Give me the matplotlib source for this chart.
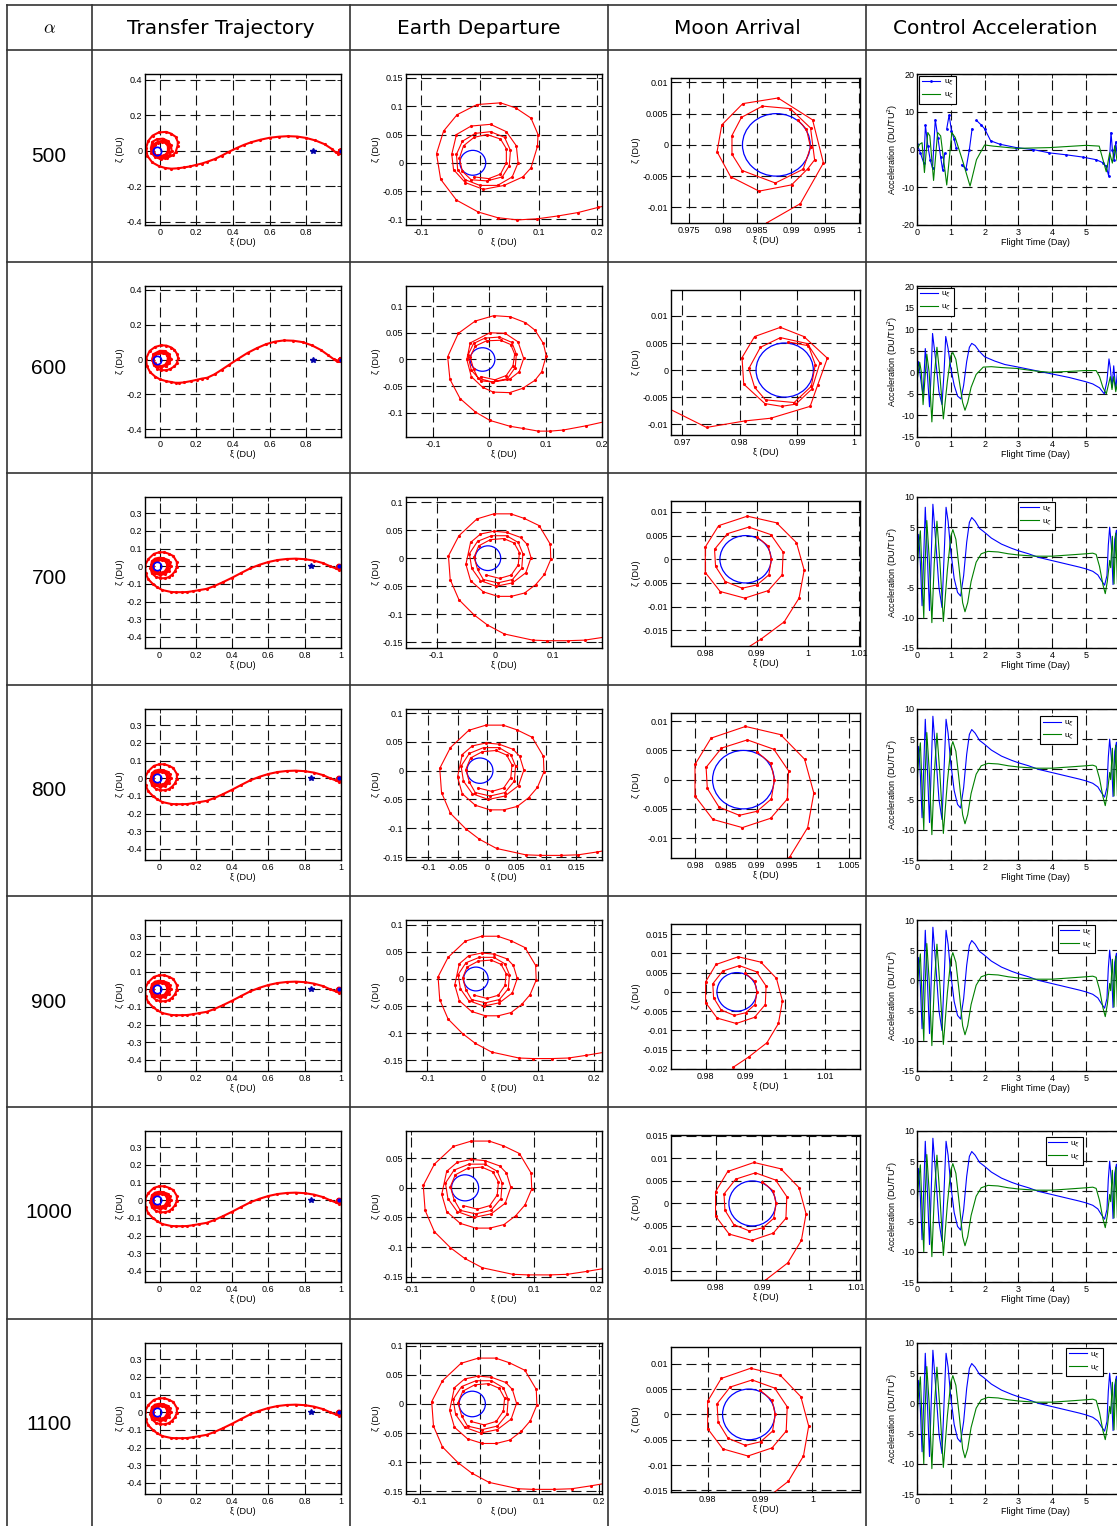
import numpy as np
import matplotlib
matplotlib.use('Agg')
import matplotlib.pyplot as plt
from matplotlib.patches import Circle
from matplotlib.ticker import FuncFormatter

plt.rcParams['font.family'] = ['Liberation Sans', 'DejaVu Sans']
plt.rcParams['axes.unicode_minus'] = False

W, H = 1117, 1526

alphas = ['500', '600', '700', '800', '900', '1000', '1100']
headers = ['Transfer Trajectory', 'Earth Departure', 'Moon Arrival', 'Control Acceleration']

# ---- Earth departure spirals (xi, zeta) in DU ----
earth_a = np.array([
    (-0.010, -0.025), (0.015, -0.028), (0.035, -0.020), (0.045, 0.000), (0.045, 0.025), (0.035, 0.042),
    (0.012, 0.050), (-0.010, 0.045), (-0.028, 0.030), (-0.035, 0.008), (-0.030, -0.015),
    (-0.015, -0.030), (0.012, -0.032), (0.038, -0.025), (0.050, -0.005), (0.052, 0.022), (0.042, 0.045),
    (0.018, 0.055), (-0.008, 0.052), (-0.030, 0.038), (-0.040, 0.015), (-0.038, -0.012),
    (-0.025, -0.030), (0.000, -0.040), (0.030, -0.040), (0.055, -0.025), (0.065, 0.000), (0.062, 0.030),
    (0.045, 0.055), (0.018, 0.068), (-0.015, 0.065), (-0.040, 0.050), (-0.048, 0.015),
    (-0.045, -0.012), (-0.025, -0.035), (0.006, -0.047), (0.041, -0.040), (0.073, -0.025), (0.087, -0.009),
    (0.098, 0.029), (0.099, 0.050), (0.087, 0.079), (0.061, 0.097), (0.035, 0.106), (-0.005, 0.103),
    (-0.039, 0.085), (-0.062, 0.056), (-0.074, 0.016), (-0.067, -0.029), (-0.040, -0.066), (-0.003, -0.087),
    (0.030, -0.097), (0.064, -0.101), (0.098, -0.099), (0.133, -0.094), (0.167, -0.088), (0.201, -0.079),
    (0.230, -0.072)])
earth_b = np.array([
    (-0.015, -0.032), (0.010, -0.038), (0.030, -0.030), (0.042, -0.012), (0.045, 0.010), (0.038, 0.028),
    (0.020, 0.036), (-0.005, 0.035), (-0.025, 0.025), (-0.034, 0.005), (-0.028, -0.018),
    (-0.020, -0.035), (0.005, -0.042), (0.032, -0.036), (0.046, -0.015), (0.048, 0.010), (0.040, 0.032),
    (0.018, 0.042), (-0.008, 0.040), (-0.028, 0.030), (-0.038, 0.008), (-0.032, -0.020),
    (-0.015, -0.040), (0.007, -0.042), (0.036, -0.037), (0.053, -0.023), (0.061, 0.002), (0.051, 0.033),
    (0.028, 0.049), (0.001, 0.050), (-0.034, 0.031), (-0.040, 0.000), (-0.032, -0.032),
    (-0.012, -0.052), (0.007, -0.061), (0.036, -0.062), (0.059, -0.054), (0.081, -0.039), (0.093, -0.023),
    (0.101, 0.007), (0.096, 0.030), (0.081, 0.055), (0.064, 0.069), (0.037, 0.080), (0.008, 0.082),
    (-0.025, 0.072), (-0.055, 0.049), (-0.074, 0.005), (-0.070, -0.037), (-0.052, -0.073), (-0.025, -0.098),
    (0.001, -0.114), (0.037, -0.125), (0.060, -0.129), (0.087, -0.134), (0.108, -0.134), (0.131, -0.132),
    (0.172, -0.124), (0.202, -0.117), (0.230, -0.110)])
earth_c = np.array([
    (-0.015, -0.030), (0.008, -0.036), (0.028, -0.030), (0.040, -0.012), (0.042, 0.010), (0.033, 0.027),
    (0.015, 0.035), (-0.008, 0.033), (-0.028, 0.022), (-0.036, 0.002), (-0.030, -0.020),
    (-0.020, -0.038), (0.005, -0.044), (0.030, -0.038), (0.046, -0.018), (0.048, 0.008), (0.040, 0.028),
    (0.020, 0.040), (-0.006, 0.040), (-0.030, 0.030), (-0.044, 0.008), (-0.040, -0.018),
    (-0.025, -0.040), (0.002, -0.050), (0.030, -0.044), (0.053, -0.026), (0.062, 0.001), (0.055, 0.025),
    (0.044, 0.037), (0.020, 0.046), (-0.002, 0.048), (-0.025, 0.043), (-0.042, 0.028), (-0.050, -0.011),
    (-0.042, -0.040), (-0.020, -0.060), (0.005, -0.068), (0.028, -0.068), (0.051, -0.062), (0.070, -0.047),
    (0.085, -0.029), (0.096, -0.002), (0.095, 0.025), (0.076, 0.058), (0.050, 0.071), (0.027, 0.079),
    (-0.002, 0.079), (-0.031, 0.070), (-0.062, 0.040), (-0.080, 0.004), (-0.077, -0.038), (-0.062, -0.074),
    (-0.036, -0.101), (-0.013, -0.119), (0.016, -0.135), (0.065, -0.146), (0.090, -0.147), (0.125, -0.147),
    (0.154, -0.146), (0.186, -0.141), (0.220, -0.135)])

# ---- cruise arcs between Earth and Moon ----
arc_a_x = [0.26, 0.30, 0.34, 0.38, 0.42, 0.46, 0.50, 0.55, 0.60, 0.65, 0.70, 0.75, 0.80, 0.85, 0.90, 0.94, 0.96, 0.975]
arc_a_y = [-0.062, -0.047, -0.027, -0.005, 0.015, 0.033, 0.048, 0.062, 0.073, 0.079, 0.082, 0.080, 0.072, 0.058,
           0.037, 0.010, -0.008, -0.016]
arc_b_x = [0.26, 0.30, 0.34, 0.38, 0.43, 0.48, 0.53, 0.58, 0.63, 0.68, 0.73, 0.78, 0.83, 0.88, 0.92, 0.95, 0.965]
arc_b_y = [-0.105, -0.085, -0.058, -0.030, 0.005, 0.038, 0.065, 0.088, 0.103, 0.110, 0.108, 0.100, 0.082, 0.055,
           0.025, 0.002, -0.005]
arc_c_x = [0.26, 0.30, 0.35, 0.40, 0.45, 0.50, 0.55, 0.60, 0.65, 0.70, 0.75, 0.80, 0.85, 0.90, 0.94, 0.97]
arc_c_y = [-0.128, -0.113, -0.090, -0.065, -0.038, -0.012, 0.008, 0.024, 0.035, 0.041, 0.043, 0.040, 0.032,
           0.018, 0.000, -0.012]

# ---- Moon arrival spirals ----
moon_a = np.array([
    (0.9864, -0.0125), (0.9914, -0.0094), (0.9948, -0.0029), (0.9932, 0.0040), (0.9881, 0.0075),
    (0.9829, 0.0066), (0.9798, 0.0032), (0.9791, -0.0011), (0.9811, -0.0051), (0.9853, -0.0074),
    (0.9901, -0.0064), (0.9925, -0.0038), (0.9935, -0.0024), (0.9929, 0.0027), (0.9899, 0.0058),
    (0.9858, 0.0062), (0.9827, 0.0044), (0.9813, 0.0015), (0.9813, -0.0015), (0.9828, -0.0041),
    (0.9877, -0.0061), (0.9918, -0.0039), (0.9929, -0.0004), (0.9923, 0.0025), (0.9910, 0.0040)])
moon_b = np.array([
    (0.9670, -0.0068), (0.9742, -0.0106), (0.9809, -0.0094), (0.9854, -0.0089), (0.9923, -0.0067),
    (0.9936, -0.0028), (0.9953, 0.0022), (0.9912, 0.0062), (0.9871, 0.0079), (0.9826, 0.0062),
    (0.9804, 0.0023), (0.9807, -0.0026), (0.9844, -0.0062), (0.9873, -0.0067), (0.9898, -0.0063),
    (0.9926, -0.0035), (0.9940, 0.0013), (0.9918, 0.0049), (0.9871, 0.0060), (0.9836, 0.0042),
    (0.9816, 0.0003), (0.9826, -0.0032), (0.9845, -0.0055), (0.9895, -0.0060), (0.9925, -0.0030),
    (0.9932, 0.0010), (0.9920, 0.0045), (0.9885, 0.0052)])
moon_c = np.array([
    (0.9870, -0.0195), (0.9908, -0.0169), (0.9954, -0.0132), (0.9983, -0.0082), (0.9993, -0.0023),
    (0.9978, 0.0035), (0.9939, 0.0077), (0.9882, 0.0091), (0.9826, 0.0071), (0.9800, 0.0026),
    (0.9800, -0.0028), (0.9829, -0.0068), (0.9877, -0.0082), (0.9923, -0.0066), (0.9950, -0.0033),
    (0.9952, 0.0015), (0.9928, 0.0052), (0.9885, 0.0068), (0.9843, 0.0054), (0.9818, 0.0021),
    (0.9820, -0.0015), (0.9839, -0.0047), (0.9872, -0.0061), (0.9901, -0.0054), (0.9924, -0.0033),
    (0.9929, 0.0000), (0.9923, 0.0028), (0.9900, 0.0048)])

# ---- control accelerations (day, DU/TU^2) ----
ctrl_a_t_xi = [0.0, 0.1, 0.2, 0.25, 0.32, 0.39, 0.46, 0.54, 0.62, 0.7, 0.76, 0.82, 0.85, 0.88, 0.95, 1.02, 1.1,
               1.16, 1.24, 1.32, 1.45, 1.55, 1.63, 1.7, 1.76, 1.9, 2.0, 2.18, 2.45, 2.94, 3.43, 3.92, 4.41, 4.9,
               5.3, 5.5, 5.6, 5.67, 5.74, 5.78, 5.83, 5.88, 5.94, 6.0]
ctrl_a_xi = [1.4, -0.9, -3.6, 6.4, 1.0, -2.7, -5.0, 7.9, 3.0, -2.0, -5.5, -1.0, np.nan, 5.5, 9.1, 5.0, 2.7,
             0.4, np.nan, -4.1, -5.1, 0.0, 5.5, np.nan, 7.7, 6.5, 5.5, 2.3, 1.4, 0.5, 0.0, -0.9, -1.4, -2.0,
             -2.7, -3.5, -4.5, -7.0, 4.5, 0.0, -2.7, 2.0, -3.0, 2.0]
ctrl_a_t_zeta = [0.0, 0.08, 0.15, 0.22, 0.32, 0.38, 0.49, 0.61, 0.7, 0.88, 1.03, 1.13, 1.37, 1.57, 1.76, 2.0,
                 2.25, 2.94, 3.92, 5.0, 5.39, 5.6, 5.7, 5.78, 5.85, 5.92, 6.0]
ctrl_a_zeta = [0.0, 1.4, 1.8, -6.1, 4.5, 3.6, -8.2, 4.5, 3.6, -9.4, 4.5, 3.2, -3.6, -9.7, -2.7, 1.2, 0.9, 0.3,
               0.5, 1.1, 0.9, -5.9, -0.9, -3.6, 1.0, -3.0, 0.5]

ctrl_b_t_xi = [0.0, 0.05, 0.1, 0.18, 0.245, 0.3, 0.37, 0.42, 0.46, 0.55, 0.65, 0.74, 0.8, 0.85, 0.92, 1.0, 1.1,
               1.2, 1.3, 1.38, 1.47, 1.55, 1.62, 1.72, 1.85, 2.0, 2.3, 2.6, 3.0, 3.5, 4.0, 4.5, 5.0, 5.2, 5.4,
               5.54, 5.62, 5.68, 5.72, 5.77, 5.82, 5.88, 5.94, 6.0]
ctrl_b_xi = [0.0, 2.5, -1.0, -5.5, 5.5, 0.5, -8.0, 0.0, 9.0, 3.0, -4.5, -7.5, 0.0, 8.3, 5.5, 1.0, -3.0, -5.5,
             -6.2, -3.0, 2.5, 5.8, 6.7, 6.2, 4.8, 3.6, 2.6, 1.8, 1.2, 0.4, -0.4, -1.2, -2.2, -2.7, -3.6, -5.0,
             -2.0, 3.1, 1.0, -3.5, 1.5, -4.0, 1.0, -3.0]
ctrl_b_t_zeta = [0.0, 0.08, 0.13, 0.18, 0.24, 0.29, 0.36, 0.44, 0.51, 0.59, 0.68, 0.78, 0.9, 1.0, 1.06, 1.15,
                 1.25, 1.35, 1.42, 1.5, 1.6, 1.75, 1.96, 2.2, 2.5, 2.94, 3.5, 3.92, 4.5, 4.95, 5.3, 5.4, 5.5,
                 5.6, 5.66, 5.72, 5.77, 5.82, 5.88, 5.94, 6.0]
ctrl_b_zeta = [-2.0, 2.3, 0.0, -7.5, -1.0, 4.2, 0.0, -11.5, -1.0, 5.8, -1.0, -10.8, -2.0, 3.8, 4.6, 3.0, -2.0,
               -7.0, -8.8, -7.0, -3.5, -0.5, 1.2, 1.3, 1.1, 0.9, 0.3, 0.0, 0.2, 0.4, 0.4, -1.0, -3.5, -5.0,
               -3.0, -1.0, -4.0, -1.0, -4.5, -2.0, -3.5]

ctrl_c_t_xi = [0.0, 0.05, 0.1, 0.15, 0.2, 0.245, 0.3, 0.37, 0.42, 0.47, 0.55, 0.65, 0.74, 0.8, 0.86, 0.92, 1.0,
               1.1, 1.2, 1.29, 1.38, 1.47, 1.55, 1.62, 1.72, 1.85, 1.99, 2.2, 2.5, 2.8, 3.0, 3.3, 3.6, 3.9, 4.2,
               4.5, 4.8, 5.0, 5.2, 5.35, 5.45, 5.55, 5.62, 5.66, 5.7, 5.75, 5.8, 5.85, 5.9, 5.95, 6.0, 6.05]
ctrl_c_xi = [-0.5, 3.8, -1.0, -8.0, 0.5, 8.3, 1.0, -8.8, 0.0, 8.8, 3.0, -5.0, -8.3, 0.0, 8.3, 6.0, 1.0, -3.5,
             -5.8, -6.4, -3.0, 2.5, 5.8, 6.6, 6.0, 4.8, 4.2, 3.2, 2.2, 1.5, 1.1, 0.6, 0.0, -0.4, -0.8, -1.2,
             -1.6, -1.9, -2.3, -2.9, -3.8, -4.6, -3.0, 2.0, 5.0, 2.0, -4.5, 3.0, 4.5, -1.0, -4.5, 4.0]
ctrl_c_t_zeta = [0.0, 0.05, 0.1, 0.15, 0.2, 0.24, 0.29, 0.36, 0.44, 0.51, 0.59, 0.68, 0.78, 0.9, 1.0, 1.06,
                 1.15, 1.25, 1.35, 1.42, 1.5, 1.6, 1.75, 1.9, 2.1, 2.4, 2.7, 3.0, 3.5, 4.0, 4.5, 5.0, 5.2, 5.3,
                 5.4, 5.5, 5.57, 5.63, 5.7, 5.73, 5.78, 5.83, 5.88, 5.93, 5.98, 6.05]
ctrl_c_zeta = [-2.5, 2.0, 4.4, -3.0, -10.0, -1.0, 6.1, 0.0, -10.8, -1.0, 6.0, -1.0, -10.6, -2.0, 3.5, 4.6, 3.0,
               -2.0, -7.5, -9.0, -7.5, -4.0, -0.8, 0.6, 1.0, 0.9, 0.6, 0.4, 0.2, 0.2, 0.4, 0.6, 0.7, 0.5, -1.5,
               -4.5, -6.0, -4.0, -0.5, -1.7, 3.5, -4.4, 4.0, -4.4, 4.0, -4.0]

# which data set each row uses
row_set = ['a', 'b', 'c', 'c', 'c', 'c', 'c']

# axis limits / ticks per row
tr_ylim = [(-0.418, 0.432), (-0.446, 0.423)] + [(-0.463, 0.392)] * 5
tr_yticks = [[-0.4, -0.2, 0, 0.2, 0.4]] * 2 + [[-0.4, -0.3, -0.2, -0.1, 0, 0.1, 0.2, 0.3]] * 5
tr_xlim = [(-0.08, 0.99)] * 2 + [(-0.08, 1.0)] * 5
tr_xticks = [[0, 0.2, 0.4, 0.6, 0.8]] * 2 + [[0, 0.2, 0.4, 0.6, 0.8, 1]] * 5

ed_xlim = [(-0.126, 0.208), (-0.148, 0.2001), (-0.153, 0.184), (-0.137, 0.194), (-0.1375, 0.214),
           (-0.108, 0.210), (-0.123, 0.205)]
ed_ylim = [(-0.110, 0.157), (-0.145, 0.1375), (-0.160, 0.109), (-0.155, 0.107), (-0.170, 0.109),
           (-0.159, 0.096), (-0.155, 0.105)]
ed_xticks = [[-0.1, 0, 0.1, 0.2], [-0.1, 0, 0.1, 0.2], [-0.1, 0, 0.1], [-0.1, -0.05, 0, 0.05, 0.1, 0.15],
             [-0.1, 0, 0.1, 0.2], [-0.1, 0, 0.1, 0.2], [-0.1, 0, 0.1, 0.2]]
ed_yticks = [[-0.1, -0.05, 0, 0.05, 0.1, 0.15], [-0.1, -0.05, 0, 0.05, 0.1],
             [-0.15, -0.1, -0.05, 0, 0.05, 0.1], [-0.15, -0.1, -0.05, 0, 0.05, 0.1],
             [-0.15, -0.1, -0.05, 0, 0.05, 0.1], [-0.15, -0.1, -0.05, 0, 0.05],
             [-0.15, -0.1, -0.05, 0, 0.05, 0.1]]

ma_xlim = [(0.9723, 1.0002), (0.9680, 1.0010), (0.9733, 1.0102), (0.9761, 1.0068), (0.9713, 1.0188),
           (0.9705, 1.0108), (0.9730, 1.0091)]
ma_ylim = [(-0.0125, 0.0107), (-0.0120, 0.0148), (-0.0183, 0.0123), (-0.0134, 0.0114), (-0.0200, 0.0176),
           (-0.0170, 0.0152), (-0.0153, 0.0133)]
ma_xticks = [[0.975, 0.98, 0.985, 0.99, 0.995, 1], [0.97, 0.98, 0.99, 1], [0.98, 0.99, 1, 1.01],
             [0.98, 0.985, 0.99, 0.995, 1, 1.005], [0.98, 0.99, 1, 1.01], [0.98, 0.99, 1, 1.01],
             [0.98, 0.99, 1]]
ma_yticks = [[-0.01, -0.005, 0, 0.005, 0.01], [-0.01, -0.005, 0, 0.005, 0.01],
             [-0.015, -0.01, -0.005, 0, 0.005, 0.01], [-0.01, -0.005, 0, 0.005, 0.01],
             [-0.02, -0.015, -0.01, -0.005, 0, 0.005, 0.01, 0.015],
             [-0.015, -0.01, -0.005, 0, 0.005, 0.01, 0.015], [-0.015, -0.01, -0.005, 0, 0.005, 0.01]]

ca_ylim = [(-20, 20), (-15, 20)] + [(-15, 10)] * 5
ca_yticks = [[-20, -10, 0, 10, 20], [-15, -10, -5, 0, 5, 10, 15, 20]] + [[-15, -10, -5, 0, 5, 10]] * 5
ca_xticks = [0, 1, 2, 3, 4, 5]
ca_leg_pos = [(0.01, 0.99), (0.0, 0.99), (0.426, 0.967), (0.52, 0.953), (0.595, 0.967), (0.545, 0.96),
              (0.63, 0.967)]

earth_pos = (-0.01215, 0.0)
earth_r = 0.022
moon_pos = (0.98785, 0.0)
moon_r = 0.005
l1_pos = (0.837, 0.0)

earth = {'a': earth_a, 'b': earth_b, 'c': earth_c}
moon = {'a': moon_a, 'b': moon_b, 'c': moon_c}
arc = {'a': (arc_a_x, arc_a_y), 'b': (arc_b_x, arc_b_y), 'c': (arc_c_x, arc_c_y)}
ctrl = {'a': (ctrl_a_t_xi, ctrl_a_xi, ctrl_a_t_zeta, ctrl_a_zeta),
        'b': (ctrl_b_t_xi, ctrl_b_xi, ctrl_b_t_zeta, ctrl_b_zeta),
        'c': (ctrl_c_t_xi, ctrl_c_xi, ctrl_c_t_zeta, ctrl_c_zeta)}

row_tops = [50, 262, 473, 685, 896, 1107, 1319]
col_x = [7, 92, 350, 608, 866]
head_cx = [221, 479, 737, 995]

fig = plt.figure(figsize=(W / 100, H / 100), dpi=100)
fig.patch.set_facecolor('white')

# table background
bg = fig.add_axes([0, 0, 1, 1])
bg.set_xlim(0, W)
bg.set_ylim(H, 0)
bg.axis('off')
lc = '#333333'
for y in [5, 50] + row_tops[1:]:
    bg.plot([7, W], [y, y], color=lc, lw=1.2)
for x in col_x:
    bg.plot([x, x], [5, H], color=lc, lw=1.2)
bg.text(49, 29, r'$\alpha$', math_fontfamily='cm', fontsize=13, ha='center', va='center')
for cx, h in zip(head_cx, headers):
    bg.text(cx, 28, h, fontsize=14.5, family='DejaVu Sans', ha='center', va='center')
for i, a in enumerate(alphas):
    bg.text(49, row_tops[i] + 106, a, fontsize=15, ha='center', va='center')

fmt = FuncFormatter(lambda v, p: '%g' % round(v, 6))


def px_axes(l, t, r, b):
    return fig.add_axes([l / W, 1 - b / H, (r - l) / W, (b - t) / H])


def setup(ax, xlim, ylim, xt, yt):
    ax.set_xlim(xlim)
    ax.set_ylim(ylim)
    ax.set_xticks(xt)
    ax.set_yticks(yt)
    ax.xaxis.set_major_formatter(fmt)
    ax.yaxis.set_major_formatter(fmt)
    ax.tick_params(direction='in', length=3, width=0.6, labelsize=6.5, top=True, right=True, pad=2)
    ax.grid(True, color='#111111', lw=0.8, ls=(0, (9, 4.5)))
    ax.set_axisbelow(True)
    for s in ax.spines.values():
        s.set_linewidth(1.0)


for i in range(7):
    top = row_tops[i]
    key = row_set[i]
    e = earth[key]
    m = moon[key]
    ax_, ay_ = arc[key]

    # transfer trajectory
    ax = px_axes(145, top + 24, 341, top + 175)
    setup(ax, tr_xlim[i], tr_ylim[i], tr_xticks[i], tr_yticks[i])
    tx = np.concatenate([e[:, 0], ax_, m[:, 0]])
    ty = np.concatenate([e[:, 1], ay_, m[:, 1]])
    ax.plot(tx, ty, color='r', lw=1.5, marker='.', ms=2.5)
    ax.plot(*earth_pos, 'o', mfc='none', mec='b', ms=6, mew=1.2)
    ax.plot(*l1_pos, '*', color='#0000aa', ms=4)
    ax.plot(*moon_pos, '.', color='b', ms=4)
    ax.set_xlabel('ξ (DU)', fontsize=6.5, labelpad=1)
    ax.set_ylabel('ζ (DU)', fontsize=6.5, labelpad=1)

    # Earth departure
    ax = px_axes(406, top + 24, 602, top + 175)
    setup(ax, ed_xlim[i], ed_ylim[i], ed_xticks[i], ed_yticks[i])
    ax.add_patch(Circle(earth_pos, earth_r, fill=False, ec='b', lw=0.9))
    ax.plot(e[:, 0], e[:, 1], color='r', lw=0.8, marker='.', ms=2.5)
    ax.set_xlabel('ξ (DU)', fontsize=6.5, labelpad=1)
    ax.set_ylabel('ζ (DU)', fontsize=6.5, labelpad=1)

    # Moon arrival
    ax = px_axes(671, top + 28, 860, top + 173)
    setup(ax, ma_xlim[i], ma_ylim[i], ma_xticks[i], ma_yticks[i])
    ax.add_patch(Circle(moon_pos, moon_r, fill=False, ec='b', lw=0.9))
    ax.plot(m[:, 0], m[:, 1], color='r', lw=0.8, marker='.', ms=2.5)
    ax.set_xlabel('ξ (DU)', fontsize=6.5, labelpad=1)
    ax.set_ylabel('ζ (DU)', fontsize=6.5, labelpad=1)

    # control acceleration (axes runs past the right edge of the page)
    t1, u1, t2, u2 = ctrl[key]
    ax = px_axes(917, top + 24, 917 + 7 * 33.8, top + 175)
    setup(ax, (0, 7), ca_ylim[i], ca_xticks, ca_yticks[i])
    if key == 'a':
        ax.plot(t1, u1, color='b', lw=0.8, marker='.', ms=2, label='u$_\\xi$')
    else:
        ax.plot(t1, u1, color='b', lw=0.8, label='u$_\\xi$')
    ax.plot(t2, u2, color='#008000', lw=0.8, label='u$_\\zeta$')
    ax.set_xlabel('Flight Time (Day)', fontsize=6.5, labelpad=1)
    ax.set_ylabel('Acceleration (DU/TU$^2$)', fontsize=6.5, labelpad=1)
    leg = ax.legend(loc='upper left', bbox_to_anchor=ca_leg_pos[i], fontsize=6, fancybox=False,
                    framealpha=1, edgecolor='k', handlelength=2.2, borderpad=0.3, labelspacing=0.3,
                    handletextpad=0.4, borderaxespad=0.0)
    leg.get_frame().set_linewidth(0.8)

fig.savefig('out.png', dpi=100)
